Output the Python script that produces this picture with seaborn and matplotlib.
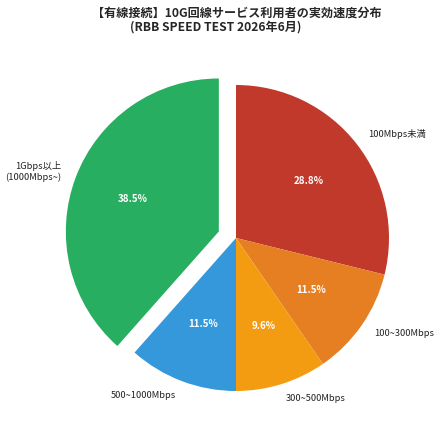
import matplotlib
matplotlib.use("Agg")
import matplotlib.pyplot as plt
import seaborn as sns

# speed buckets (clockwise from top) and respondent counts
labels = ["100Mbps未満", "100~300Mbps", "300~500Mbps", "500~1000Mbps", "1Gbps以上\n(1000Mbps~)"]
counts = [15, 6, 5, 6, 20]
colors = ["#c0392b", "#e67e22", "#f39c12", "#3498db", "#27ae60"]
explode = [0, 0, 0, 0, 0.12]

title_main = "【有線接続】10G回線サービス利用者の実効速度分布"
title_sub = "(RBB SPEED TEST 2026年6月)"

sns.set_style("white")
plt.rcParams["font.family"] = ["Noto Sans CJK JP", "DejaVu Sans"]

fig = plt.figure(figsize=(4.4, 4.23), dpi=100)
ax = fig.add_axes([0, 0, 1, 1])

wedges, texts, autotexts = ax.pie(
    counts,
    labels=labels,
    colors=sns.color_palette(colors),
    explode=explode,
    startangle=90,
    counterclock=False,
    autopct="%1.1f%%",
    pctdistance=0.6,
    labeldistance=1.1,
    wedgeprops={"linewidth": 0, "edgecolor": "none"},
    textprops={"fontsize": 6.7, "color": "#222222"},
)
for t in autotexts:
    t.set_color("white")
    t.set_fontweight("bold")
    t.set_fontsize(7)

# place the pie like the reference (centre ~ (236, 238) px, radius ~153 px)
scale = 153.0
ax.set_aspect("auto")
ax.set_xlim(-236 / scale, (440 - 236) / scale)
ax.set_ylim(-(423 - 238) / scale, 238 / scale)
ax.axis("off")

# the subtitle line sits a little left of the main line in the reference
fig.text(0.539, 0.985, title_main, ha="center", va="top",
         fontsize=8.7, fontweight="bold")
fig.text(0.49, 0.952, title_sub, ha="center", va="top",
         fontsize=8.7, fontweight="bold")

fig.savefig("out.png", dpi=100)
